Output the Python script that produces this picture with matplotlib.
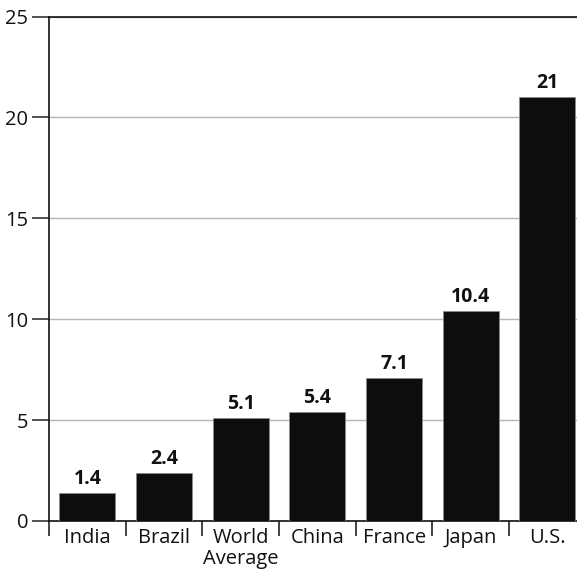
import matplotlib
matplotlib.use("Agg")
import matplotlib.pyplot as plt
import numpy as np

categories = ["India", "Brazil", "World\nAverage", "China", "France", "Japan", "U.S."]
values = [1.4, 2.4, 5.1, 5.4, 7.1, 10.4, 21]
value_labels = ["1.4", "2.4", "5.1", "5.4", "7.1", "10.4", "21"]
yticks = [0, 5, 10, 15, 20, 25]

plt.rcParams["font.family"] = ["Open Sans", "DejaVu Sans"]

fig = plt.figure(figsize=(5.77, 5.80), dpi=100)
ax = fig.add_axes([49 / 577, 1 - 521 / 580, 1 - 49 / 577, (521 - 16.5) / 580])

x = np.arange(len(categories))
bars = ax.bar(x, values, width=0.73, color="#0d0d0d", edgecolor="#8a8a8a",
              linewidth=0.6, zorder=3)

for xi, v, lab in zip(x, values, value_labels):
    ax.text(xi, v + 0.2, lab, ha="center", va="bottom", fontsize=14,
            fontweight="bold", color="#111111", zorder=4)

ax.set_ylim(0, 25)
ax.set_xlim(-0.5, 6.385)
ax.set_yticks(yticks)
ax.set_yticklabels([str(t) for t in yticks], fontsize=14.5, color="#111111")
ax.yaxis.grid(True, color="#b5b5b5", linewidth=1.0, zorder=0)

ax.set_xticks(x)
ax.set_xticklabels(categories, fontsize=14.5, color="#111111", linespacing=1.05)
ax.set_xticks(np.arange(-0.5, len(categories) - 0.5, 1.0), minor=True)
ax.tick_params(axis="x", which="major", length=0, pad=5)
ax.tick_params(axis="x", which="minor", length=11, width=1.2, color="#222222",
               direction="out")
ax.tick_params(axis="y", length=12, width=1.2, color="#333333", pad=3)

for side in ("left", "bottom", "top"):
    ax.spines[side].set_color("#111111")
    ax.spines[side].set_linewidth(1.2)
ax.spines["right"].set_visible(False)

fig.savefig("out.png", dpi=100)
